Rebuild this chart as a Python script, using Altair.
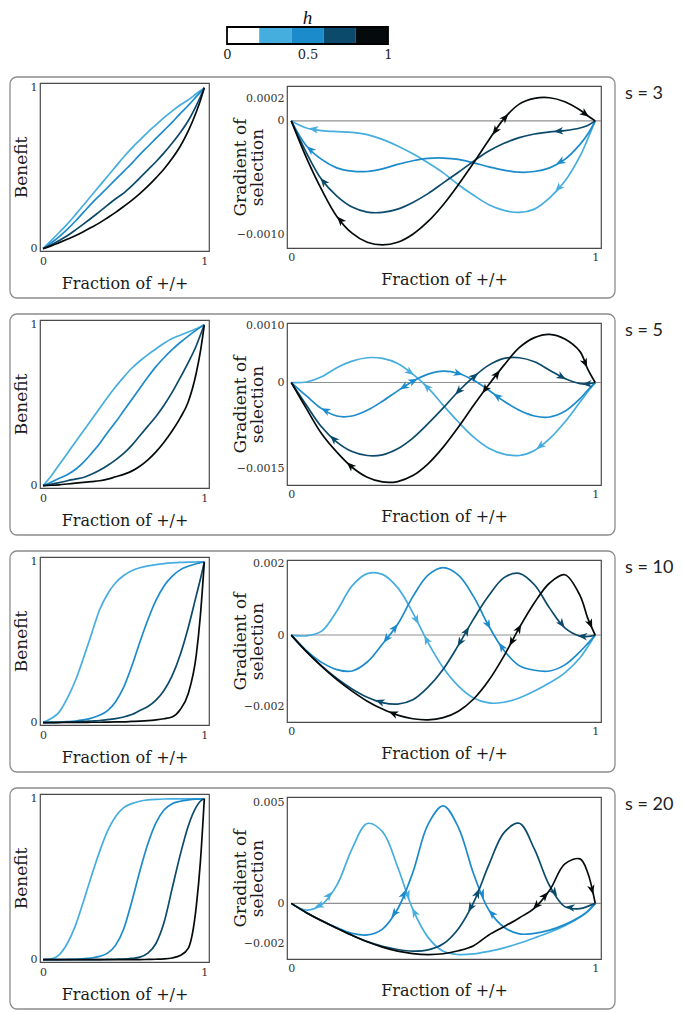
import math
import altair as alt
import numpy as np
import pandas as pd

# ---------------- data ----------------
X_GRID = [0.0, 0.05, 0.1, 0.15, 0.2, 0.25, 0.3, 0.35, 0.4, 0.45, 0.5,
          0.55, 0.6, 0.65, 0.7, 0.75, 0.8, 0.85, 0.9, 0.95, 0.975, 1.0]

H_LEVELS = [0.25, 0.5, 0.75, 1.0]
H_BIN_LO = [0.0, 0.2, 0.4, 0.6, 0.8]
H_BIN_HI = [0.2, 0.4, 0.6, 0.8, 1.0]
H_THRESHOLDS = [0.2, 0.4, 0.6, 0.8]
H_COLORS = ["#ffffff", "#46addf", "#1c8bcc", "#0c4a6b", "#050b0c"]
H_TICKS = [0, 0.5, 1]

S_VALUES = [3, 5, 10, 20]

# Benefit curves (left panels)
B3_A = [0, .05, .1, .152, .21, .27, .33, .39, .45, .51, .57, .625, .675, .725, .77, .815, .855, .893, .925, .963, .982, 1]
B3_B = [0, .035, .075, .12, .17, .225, .28, .33, .38, .43, .48, .53, .585, .635, .685, .735, .785, .84, .89, .945, .972, 1]
B3_C = [0, .022, .05, .08, .115, .152, .19, .23, .27, .31, .345, .39, .44, .49, .54, .595, .655, .72, .795, .89, .943, 1]
B3_D = [0, .017, .037, .058, .08, .105, .132, .16, .192, .225, .262, .3, .342, .388, .44, .495, .56, .635, .73, .85, .92, 1]

B5_A = [0, .06, .13, .2, .27, .34, .41, .48, .55, .615, .675, .73, .775, .815, .85, .885, .915, .935, .955, .975, .988, 1]
B5_B = [0, .02, .045, .068, .1, .145, .2, .26, .33, .395, .465, .535, .605, .675, .74, .795, .845, .89, .93, .967, .984, 1]
B5_C = [0, .008, .018, .03, .04, .05, .07, .095, .125, .16, .2, .25, .31, .37, .43, .5, .58, .67, .765, .87, .935, 1]
B5_D = [0, .002, .005, .01, .015, .02, .025, .03, .04, .055, .07, .09, .12, .16, .21, .27, .34, .42, .52, .7, .83, 1]

B10_A = [0, .025, .065, .15, .26, .4, .55, .7, .8, .87, .915, .945, .963, .975, .983, .989, .993, .996, .998, .999, 1, 1]
B10_B = [0, .001, .003, .006, .01, .017, .028, .045, .075, .13, .22, .35, .5, .64, .76, .85, .91, .95, .972, .988, .994, 1]
B10_C = [0, .001, .002, .003, .005, .007, .01, .013, .018, .025, .035, .05, .075, .1, .14, .2, .29, .42, .59, .79, .89, 1]
B10_D = [0, 0, 0, .001, .001, .001, .002, .002, .003, .004, .005, .007, .009, .012, .017, .024, .035, .08, .18, .42, .66, 1]

B20_A = [0, .005, .03, .1, .21, .36, .52, .67, .8, .89, .945, .97, .985, .993, .997, .999, 1, 1, 1, 1, 1, 1]
B20_B = [0, 0, 0, .001, .002, .005, .01, .02, .04, .09, .19, .36, .55, .72, .85, .93, .97, .985, .993, .998, .999, 1]
B20_C = [0, 0, 0, 0, 0, 0, 0, 0, .001, .002, .003, .007, .015, .04, .1, .23, .44, .65, .83, .95, .985, 1]
B20_D = [0, 0, 0, 0, 0, 0, 0, 0, 0, 0, 0, 0, 0, .001, .002, .004, .01, .025, .07, .33, .6, 1]

# Gradient of selection (right panels), in units of 1e-4
GRAD_UNIT = 1e-4
G3_A = [0, -0.62, -0.85, -0.94, -1.0, -1.2, -1.62, -2.2, -2.88, -3.68, -4.56, -5.6, -6.53, -7.35, -7.85, -8.03, -7.74, -6.76, -5.3, -3.1, -1.6, 0]
G3_B = [0, -2.2, -3.38, -4.12, -4.41, -4.44, -4.21, -3.82, -3.5, -3.29, -3.26, -3.38, -3.68, -4.03, -4.32, -4.5, -4.44, -4.12, -3.38, -2.06, -1.18, 0]
G3_C = [0, -2.8, -5.15, -6.6, -7.56, -8.0, -8.03, -7.74, -7.15, -6.38, -5.44, -4.5, -3.53, -2.65, -1.97, -1.47, -1.15, -0.97, -0.85, -0.62, -0.4, 0]
G3_D = [0, -3.24, -6.03, -8.38, -9.85, -10.65, -10.88, -10.65, -9.94, -8.82, -7.35, -5.59, -3.68, -1.68, 0.2, 1.47, 1.97, 2.03, 1.68, 0.95, 0.45, 0]

G5_A = [0, 0.1, 1.0, 2.6, 3.74, 4.33, 4.21, 3.33, 1.46, -0.94, -3.98, -6.9, -9.53, -11.46, -12.5, -12.75, -11.87, -9.82, -6.9, -3.4, -1.64, 0]
G5_B = [0, -2.34, -4.56, -5.85, -5.85, -4.85, -3.27, -1.46, 0.23, 1.46, 1.99, 1.58, 0.41, -1.35, -3.27, -4.85, -5.85, -6.02, -5.03, -2.81, -1.35, 0]
G5_C = [0, -3.98, -7.78, -10.4, -12.05, -12.75, -12.63, -11.58, -9.7, -7.19, -4.44, -1.52, 0.99, 3.04, 4.21, 4.33, 3.63, 2.16, 0.7, -0.18, -0.25, 0]
G5_D = [0, -4.56, -8.95, -12.16, -14.8, -16.55, -17.37, -17.3, -16.26, -14.2, -11.29, -7.78, -3.98, -0.35, 3.04, 6.08, 7.84, 8.42, 7.6, 5.4, 2.4, 0]

G10_A = [0, -0.2, 1.1, 6.7, 13.7, 17.1, 16.9, 13.2, 6.2, -2.1, -9.1, -14.2, -17.5, -18.9, -18.7, -17.5, -15.6, -13.3, -10.5, -6.3, -3.3, 0]
G10_B = [0, -4.3, -7.6, -9.6, -10.0, -7.5, -2.5, 3.0, 10.7, 16.7, 18.8, 16.7, 10.7, 2.5, -4.3, -8.5, -9.8, -10.0, -8.3, -4.6, -2.4, 0]
G10_C = [0, -4.6, -8.6, -12.1, -15.0, -17.3, -18.8, -19.2, -18.0, -14.5, -9.5, -2.8, 4.5, 11.0, 16.0, 17.2, 14.0, 7.5, 2.0, -0.3, -0.4, 0]
G10_D = [0, -4.6, -8.7, -12.4, -15.6, -18.4, -20.6, -22.3, -23.3, -23.6, -23.0, -21.2, -17.8, -12.6, -5.8, 2.0, 9.0, 14.5, 16.8, 11.0, 4.8, 0]

G20_A = [0, -3.3, -0.7, 9.0, 27.0, 39.5, 35.5, 18.0, -3.0, -16.8, -23.7, -25.3, -25.0, -23.7, -22.0, -19.7, -17.1, -14.3, -11.0, -6.9, -4.1, 0]
G20_B = [0, -4.6, -8.5, -12.0, -14.8, -15.6, -12.7, -2.8, 15.3, 39.1, 48.2, 37.5, 14.5, -3.3, -11.8, -15.1, -14.8, -13.2, -10.5, -6.6, -3.9, 0]
G20_C = [0, -4.6, -8.6, -12.3, -15.8, -18.9, -21.2, -22.8, -23.6, -23.0, -20.0, -12.5, 0.5, 19.0, 35.0, 39.6, 26.8, 8.7, -1.6, -2.6, -1.5, 0]
G20_D = [0, -4.6, -8.6, -12.3, -15.8, -19.0, -21.6, -23.6, -24.8, -25.3, -24.9, -23.4, -20.9, -15.6, -11.5, -7.2, -2.3, 6.5, 19.5, 22.0, 15.3, 0]

# arrowheads: (curve index, fraction of +/+)
ARROWS_S3 = [(0, 0.073), (0, 0.879), (1, 0.0625), (1, 0.885), (2, 0.106), (2, 0.879),
             (3, 0.161), (3, 0.671), (3, 0.704), (3, 0.967)]
ARROWS_S5 = [(0, 0.391), (0, 0.446), (0, 0.819), (1, 0.112), (1, 0.37), (1, 0.402), (1, 0.55),
             (1, 0.677), (2, 0.139), (2, 0.55), (2, 0.603), (2, 0.89), (2, 0.973),
             (3, 0.194), (3, 0.638), (3, 0.677), (3, 0.967)]
ARROWS_S10 = [(0, 0.412), (0, 0.445), (1, 0.313), (1, 0.341), (1, 0.648), (1, 0.692),
              (2, 0.291), (2, 0.555), (2, 0.577), (2, 0.89), (2, 0.958),
              (3, 0.335), (3, 0.725), (3, 0.749), (3, 0.984)]
ARROWS_S20 = [(0, 0.091), (0, 0.124), (0, 0.383), (0, 0.405), (1, 0.339), (1, 0.37),
              (1, 0.628), (1, 0.66), (2, 0.59), (2, 0.612), (2, 0.866), (2, 0.917),
              (3, 0.806), (3, 0.835), (3, 0.989)]

Y3_DOMAIN = [-0.001115, 0.000306]
Y5_DOMAIN = [-0.00179, 0.00104]
Y10_DOMAIN = [-0.00242, 0.00209]
Y20_DOMAIN = [-0.00275, 0.00526]
Y3_TICKS = [0.0002, 0, -0.001]
Y5_TICKS = [0.001, 0, -0.0015]
Y10_TICKS = [0.002, 0, -0.002]
Y20_TICKS = [0.005, 0, -0.002]

BENEFITS = [[B3_A, B3_B, B3_C, B3_D], [B5_A, B5_B, B5_C, B5_D],
            [B10_A, B10_B, B10_C, B10_D], [B20_A, B20_B, B20_C, B20_D]]
GRADS = [[G3_A, G3_B, G3_C, G3_D], [G5_A, G5_B, G5_C, G5_D],
         [G10_A, G10_B, G10_C, G10_D], [G20_A, G20_B, G20_C, G20_D]]
ARROWS = [ARROWS_S3, ARROWS_S5, ARROWS_S10, ARROWS_S20]
Y_DOMAINS = [Y3_DOMAIN, Y5_DOMAIN, Y10_DOMAIN, Y20_DOMAIN]
Y_TICKS = [Y3_TICKS, Y5_TICKS, Y10_TICKS, Y20_TICKS]
Y_FORMATS = [".4f", ".4f", ".3f", ".3f"]

# ---------------- layout / style ----------------
LW, LH = 169, 168
RW, RH = 314, 162
LX_DOM = [-0.019, 1.029]
LY_DOM = [-0.015, 1.03]
RX_DOM = [-0.014, 1.019]
SERIF = "DejaVu Serif"
ARROW_PATH = "M1,0L-1,-0.8L-0.45,0L-1,0.8Z"
X_TITLE = "Fraction of +/+"
GRAD_TITLE = ["Gradient of", "selection"]
LINE_W = 1.7

color_scale = alt.Scale(type="threshold", domain=H_THRESHOLDS, range=H_COLORS)


def left_panel(benefit):
    rows = []
    for h, curve in zip(H_LEVELS, benefit):
        for x, b in zip(X_GRID, curve):
            rows.append({"x": x, "b": b, "h": h})
    df = pd.DataFrame(rows)
    xs = alt.Scale(domain=LX_DOM, nice=False, zero=False)
    ys = alt.Scale(domain=LY_DOM, nice=False, zero=False)
    lines = alt.Chart(df).mark_line(interpolate="monotone", strokeWidth=LINE_W).encode(
        x=alt.X("x:Q", scale=xs,
                axis=alt.Axis(values=[0, 1], format="d", title=X_TITLE,
                              labelPadding=4, titlePadding=9)),
        y=alt.Y("b:Q", scale=ys,
                axis=alt.Axis(values=[0, 1], format="d", title="Benefit",
                              labelPadding=3, titlePadding=0, minExtent=10, maxExtent=10,
                              titleFontSize=17)),
        color=alt.Color("h:Q", scale=color_scale, legend=None),
        detail="h:N",
    )
    box = alt.Chart(pd.DataFrame({"k": [0]})).mark_rect(
        fill="#ffffff", fillOpacity=0, stroke="#8c8c8c", strokeWidth=1.3, cornerRadius=7
    ).encode(x=alt.value(-30), x2=alt.value(575), y=alt.value(-6), y2=alt.value(215))
    return alt.layer(lines, box).properties(width=LW, height=LH)


def right_panel(i):
    s = S_VALUES[i]
    ydom = Y_DOMAINS[i]
    curves = GRADS[i]
    rows = []
    for h, curve in zip(H_LEVELS, curves):
        for x, g in zip(X_GRID, curve):
            rows.append({"x": x, "g": g * GRAD_UNIT, "h": h})
    df = pd.DataFrame(rows)

    px = RW / (RX_DOM[1] - RX_DOM[0])
    py = RH / (ydom[1] - ydom[0])
    arows = []
    for ci, xa in ARROWS[i]:
        ys = np.array(curves[ci]) * GRAD_UNIT
        g = float(np.interp(xa, X_GRID, ys))
        d = 0.01
        slope = (np.interp(xa + d, X_GRID, ys) - np.interp(xa - d, X_GRID, ys)) / (2 * d)
        sgn = 1.0 if g > 0 else -1.0
        ang = math.degrees(math.atan2(-sgn * slope * py, sgn * px)) % 360
        arows.append({"x": xa, "g": g, "h": H_LEVELS[ci], "angle": ang})
    adf = pd.DataFrame(arows)

    xs = alt.Scale(domain=RX_DOM, nice=False, zero=False)
    ysc = alt.Scale(domain=ydom, nice=False, zero=False)
    fmt = Y_FORMATS[i]
    xaxis = alt.Axis(values=[0, 1], format="d", title=X_TITLE, labelPadding=3, titlePadding=9)
    yaxis = alt.Axis(values=Y_TICKS[i],
                     labelExpr=f"datum.value == 0 ? '0' : format(datum.value, '{fmt}')",
                     title=GRAD_TITLE, titleLineHeight=17, titleFontSize=17,
                     labelPadding=3, titlePadding=2, minExtent=19, maxExtent=19)

    zero = alt.Chart(pd.DataFrame({"x": [0.0], "g": [0.0]})).mark_rule(
        color="#8f8f8f", strokeWidth=1.1
    ).encode(x=alt.X("x:Q", scale=xs, axis=xaxis), x2=alt.value(RW),
             y=alt.Y("g:Q", scale=ysc, axis=yaxis))
    lines = alt.Chart(df).mark_line(interpolate="catmull-rom", strokeWidth=LINE_W).encode(
        x=alt.X("x:Q", scale=xs, axis=xaxis),
        y=alt.Y("g:Q", scale=ysc, axis=yaxis),
        color=alt.Color("h:Q", scale=color_scale, legend=None),
        detail="h:N",
    )
    arrows = alt.Chart(adf).mark_point(
        shape=ARROW_PATH, filled=True, size=90, opacity=1, strokeWidth=0
    ).encode(
        x=alt.X("x:Q", scale=xs, axis=xaxis),
        y=alt.Y("g:Q", scale=ysc, axis=yaxis),
        color=alt.Color("h:Q", scale=color_scale, legend=None),
        angle=alt.Angle("angle:Q", scale=None),
    )
    label = alt.Chart(pd.DataFrame({"t": [f"s = {s}"]})).mark_text(
        align="left", baseline="middle", font="Lato", fontSize=18, color="#222222"
    ).encode(text="t:N", x=alt.value(338), y=alt.value(8))
    return alt.layer(zero, lines, arrows, label).properties(width=RW, height=RH)


# colour bar for h
bar_df = pd.DataFrame({"lo": H_BIN_LO, "hi": H_BIN_HI})
bar_x = alt.Scale(domain=[-1.1615, 1.0], nice=False, zero=False)
bar_axis = alt.Axis(values=H_TICKS, format="~g", title=None, labelFontSize=13,
                    labelPadding=4, labelColor="#222222")
bins = alt.Chart(bar_df).mark_rect().encode(
    x=alt.X("lo:Q", scale=bar_x, axis=bar_axis),
    x2="hi:Q",
    color=alt.Color("lo:Q", scale=color_scale, legend=None),
)
frame = alt.Chart(pd.DataFrame({"lo": [0.0], "hi": [1.0]})).mark_rect(
    fill="#ffffff", fillOpacity=0, stroke="#000000", strokeWidth=1.8
).encode(x=alt.X("lo:Q", scale=bar_x, axis=bar_axis), x2="hi:Q")
hlabel = alt.Chart(pd.DataFrame({"lo": [0.5], "t": ["h"]})).mark_text(
    font="Liberation Serif", fontStyle="italic", fontSize=19, baseline="alphabetic",
    align="center", color="#111111"
).encode(x=alt.X("lo:Q", scale=bar_x, axis=bar_axis), y=alt.value(-3), text="t:N")
colorbar = alt.layer(bins, frame, hlabel).properties(
    width=348, height=17, view=alt.ViewBackground(stroke="transparent")
)

rows = []
for i in range(4):
    rows.append(alt.hconcat(left_panel(BENEFITS[i]), right_panel(i),
                            spacing=78, bounds="flush", center=True))

panels = alt.vconcat(*rows, spacing=12)
chart = alt.vconcat(colorbar, panels, spacing=13).properties(padding=0).configure_view(
    stroke="#4a4a4a", strokeWidth=1.2
).configure_axis(
    domain=False, ticks=False, grid=False, labelFlush=False,
    labelFont=SERIF, labelFontSize=11, labelColor="#333333",
    titleFont=SERIF, titleFontSize=16, titleFontWeight="normal", titleColor="#1a1a1a",
)

chart.save("out.html", embed_options={"renderer": "svg", "actions": False})
